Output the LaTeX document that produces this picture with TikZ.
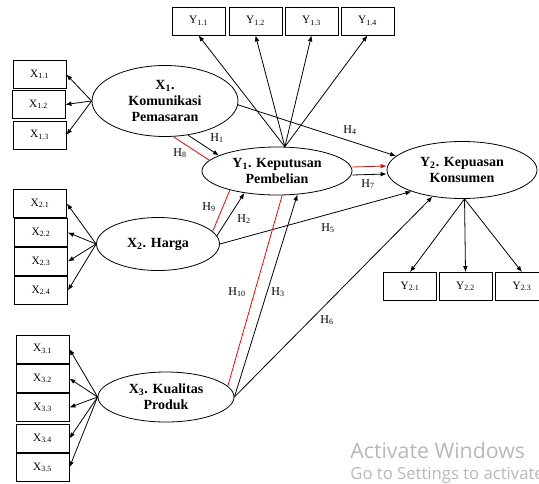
\documentclass[tikz,border=0pt]{standalone}
\usepackage{fontspec}
\setmainfont{Liberation Serif}
\newfontfamily\winfont{Open Sans}
\usetikzlibrary{shapes.geometric,arrows.meta}
\tikzset{
    indbox/.style={draw, rectangle, minimum width=39.75pt, minimum height=21pt,
      inner sep=0pt, font=\fontsize{8.5}{10}\selectfont},
    latvar/.style={draw, ellipse, inner sep=0pt, align=center,
      font=\fontsize{10.5}{12}\selectfont\bfseries},
    hyp/.style={-{Latex[length=4.5pt,width=3.5pt]}, line width=0.6pt},
    redhyp/.style={red, line width=0.6pt},
    hlabel/.style={inner sep=1pt, font=\fontsize{9}{10}\selectfont},
  }

\begin{document}
\begin{tikzpicture}[x=0.75pt, y=-0.75pt, line width=0.6pt]
      \useasboundingbox (0,0) rectangle (539,483);
      \clip (0,0) rectangle (539,483);

      % latent variables
      \node[latvar, minimum width=109.5pt, minimum height=53.25pt] (x1) at (165,101)
        {X\textsubscript{1}.\\Komunikasi\\Pemasaran};
      \node[latvar, minimum width=92.25pt, minimum height=39.75pt] (x2) at (158,244)
        {X\textsubscript{2}. Harga};
      \node[latvar, minimum width=102pt, minimum height=37.5pt] (x3) at (166,397)
        {X\textsubscript{3}. Kualitas\\Produk};
      \node[latvar, minimum width=112.5pt, minimum height=36pt] (y1) at (277,171)
        {Y\textsubscript{1}. Keputusan\\Pembelian};
      \node[latvar, minimum width=112.5pt, minimum height=42.75pt] (y2) at (462,170)
        {Y\textsubscript{2}. Kepuasan\\Konsumen};

      % indicators of Y1
      \node[indbox] (y11) at (198.5,21) {Y\textsubscript{1.1}};
      \node[indbox] (y12) at (255.5,21) {Y\textsubscript{1.2}};
      \node[indbox] (y13) at (311.5,21) {Y\textsubscript{1.3}};
      \node[indbox] (y14) at (367.5,21) {Y\textsubscript{1.4}};

      % indicators of X1
      \node[indbox] (x11) at (39.5,74.5) {X\textsubscript{1.1}};
      \node[indbox] (x12) at (38.5,104.5) {X\textsubscript{1.2}};
      \node[indbox] (x13) at (39.5,135) {X\textsubscript{1.3}};

      % indicators of X2
      \node[indbox] (x21) at (40,203.5) {X\textsubscript{2.1}};
      \node[indbox] (x22) at (41,232.5) {X\textsubscript{2.2}};
      \node[indbox] (x23) at (41,261.5) {X\textsubscript{2.3}};
      \node[indbox] (x24) at (41,290.5) {X\textsubscript{2.4}};

      % indicators of X3
      \node[indbox] (x31) at (42.5,349) {X\textsubscript{3.1}};
      \node[indbox] (x32) at (42.5,378.5) {X\textsubscript{3.2}};
      \node[indbox] (x33) at (42.5,407.5) {X\textsubscript{3.3}};
      \node[indbox] (x34) at (42.5,438.5) {X\textsubscript{3.4}};
      \node[indbox] (x35) at (42.5,467.5) {X\textsubscript{3.5}};

      % indicators of Y2
      \node[indbox] (y21) at (410,286.5) {Y\textsubscript{2.1}};
      \node[indbox] (y22) at (465.5,286.5) {Y\textsubscript{2.2}};
      \node[indbox] (y23) at (522,286.5) {Y\textsubscript{2.3}};

      % loadings
      \foreach \i in {1,2,3} \draw[hyp] (x1.west) -- (x1\i.east);
      \foreach \i in {1,2,3,4} \draw[hyp] (x2.west) -- (x2\i.east);
      \foreach \i in {1,2,3,4,5} \draw[hyp] (x3.west) -- (x3\i.east);
      \foreach \i in {1,2,3,4} \draw[hyp] (y1.72) -- (y1\i.south);
      \foreach \i in {1,2,3} \draw[hyp] (y2.-85) -- (y2\i.north);

      % hypotheses
      \draw[redhyp] (x1.-77) -- (y1.171);
      \draw[hyp] (x1.-56) -- (y1.165);
      \draw[hyp] (x1.-3) -- (y2.168);
      \draw[redhyp, -{Latex[length=4.5pt,width=3.5pt]}] ([yshift=3pt]y1.east) -- ([yshift=3pt]y2.west);
      \draw[hyp] ([yshift=-3pt]y1.east) -- ([yshift=-3pt]y2.west);
      \draw[redhyp] (x2.13) -- (y1.-158);
      \draw[hyp] (x2.8) -- (y1.-146);
      \draw[hyp] (x2.east) -- (y2.-157);
      \draw[redhyp] (x3.10) -- (y1.-78);
      \draw[hyp] (x3.east) -- (y1.-49);
      \draw[hyp] (x3.east) -- (y2.-138);

      % hypothesis labels
      \node[hlabel] (h1) at (217,138) {H\textsubscript{1}};
      \node[hlabel] (h8) at (180,153) {H\textsubscript{8}};
      \node[hlabel] (h4) at (350,130) {H\textsubscript{4}};
      \node[hlabel] (h7) at (368,184) {H\textsubscript{7}};
      \node[hlabel] (h9) at (209,207) {H\textsubscript{9}};
      \node[hlabel] (h2) at (244,219) {H\textsubscript{2}};
      \node[hlabel] (h5) at (328,228) {H\textsubscript{5}};
      \node[hlabel] (h10) at (237,292) {H\textsubscript{10}};
      \node[hlabel] (h3) at (278,292) {H\textsubscript{3}};
      \node[hlabel] (h6) at (327,320) {H\textsubscript{6}};

      % watermark
      \node[anchor=base west, inner sep=0pt, text=black!28, font=\winfont\fontsize{16}{18}\selectfont]
        (wm1) at (350,458) {Activate Windows};
      \node[anchor=base west, inner sep=0pt, text=black!28, font=\winfont\fontsize{12.5}{14}\selectfont]
        (wm2) at (350,479) {Go to Settings to activate Windows.};
    \end{tikzpicture}
\end{document}
